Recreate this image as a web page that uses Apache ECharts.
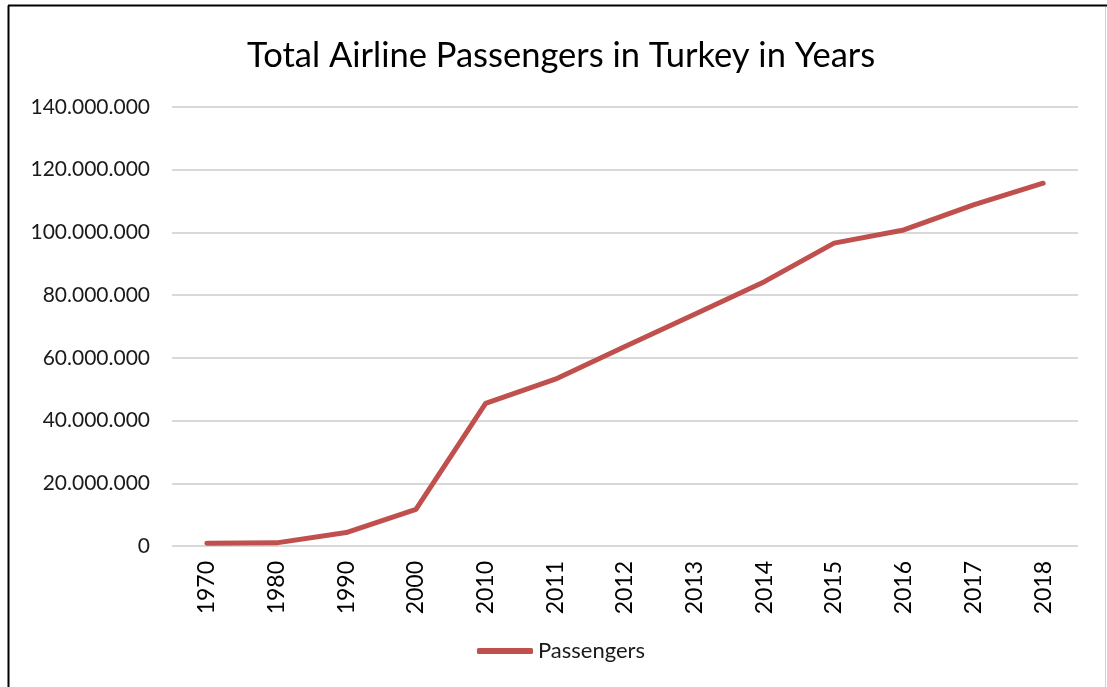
<!DOCTYPE html>
<html>
<head>
<meta charset="utf-8">
<script src="https://cdn.jsdelivr.net/npm/echarts@6/dist/echarts.min.js"></script>
<style>
  html, body { margin: 0; padding: 0; background: #fff; }
  #chart { width: 1107px; height: 687px; }
</style>
</head>
<body>
<div id="chart"></div>
<script>
// Years shown on the category axis
const years = ['1970', '1980', '1990', '2000', '2010', '2011', '2012', '2013', '2014', '2015', '2016', '2017', '2018'];
// Total airline passengers per year
const passengers = [850000, 1000000, 4300000, 11700000, 45500000, 53200000, 63600000, 73900000, 84300000, 96600000, 100800000, 108800000, 115700000];
// Value axis range
const yMin = 0;
const yMax = 140000000;
const yStep = 20000000;

const FONT = 'Lato, "Open Sans", sans-serif';

// Thousands separated with dots
function fmt(v) {
  return String(Math.round(v)).replace(/\B(?=(\d{3})+(?!\d))/g, '.');
}

const chart = echarts.init(document.getElementById('chart'), null, { renderer: 'canvas' });

chart.setOption({
  backgroundColor: '#ffffff',
  animation: false,
  title: {
    text: 'Total Airline Passengers in Turkey in Years',
    left: 242,
    top: 33,
    textStyle: { fontFamily: FONT, fontSize: 34.5, fontWeight: 'normal', color: '#000' }
  },
  legend: {
    bottom: 20,
    left: 472,
    icon: 'roundRect',
    itemWidth: 56,
    itemHeight: 6,
    itemGap: 10,
    textStyle: { fontFamily: FONT, fontSize: 22, color: '#1a1a1a' },
    data: ['Passengers']
  },
  grid: { left: 172, right: 29, top: 107, bottom: 141 },
  xAxis: {
    type: 'category',
    data: years,
    boundaryGap: true,
    axisLine: { show: false },
    axisTick: { show: false },
    axisLabel: {
      rotate: 90,
      margin: 15,
      fontFamily: FONT,
      fontSize: 23,
      color: '#000'
    }
  },
  yAxis: {
    type: 'value',
    min: yMin,
    max: yMax,
    interval: yStep,
    axisLine: { show: false },
    axisTick: { show: false },
    splitLine: { lineStyle: { color: '#d9d9d9', width: 2 } },
    axisLabel: {
      margin: 22,
      fontFamily: FONT,
      fontSize: 21,
      color: '#1a1a1a',
      formatter: fmt
    }
  },
  series: [{
    name: 'Passengers',
    type: 'line',
    data: passengers,
    symbol: 'none',
    itemStyle: { color: '#c0504d' },
    lineStyle: { color: '#c0504d', width: 5, cap: 'round', join: 'round' }
  }],
  graphic: [
    // Chart frame: dark left and top edges, pale right edge
    { type: 'line', shape: { x1: 8.5, y1: 5.5, x2: 8.5, y2: 687 }, style: { stroke: '#000', lineWidth: 2 } },
    { type: 'line', shape: { x1: 8, y1: 5.5, x2: 1107, y2: 5.5 }, style: { stroke: '#000', lineWidth: 2 } },
    { type: 'line', shape: { x1: 1105.5, y1: 7, x2: 1105.5, y2: 687 }, style: { stroke: '#d0d0d0', lineWidth: 1 } }
  ]
});
</script>
</body>
</html>
